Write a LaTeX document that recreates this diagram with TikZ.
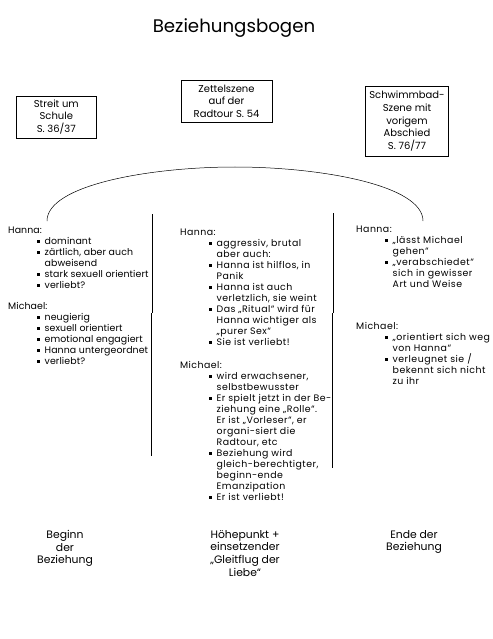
\documentclass[tikz,border=0pt]{standalone}
\usepackage{fontspec}
\setmainfont{Poppins}
\usetikzlibrary{positioning}

\newcommand{\bul}{\hspace*{29pt}\makebox[7.5pt][l]{\rule[1.8pt]{2.6pt}{2.6pt}}}
\newcommand{\cont}{\hspace*{36.5pt}}

\tikzset{
  col/.style={align=left, inner sep=0pt, anchor=north west, font=\fontsize{9.4}{11}\selectfont\addfontfeature{LetterSpace=#1}},
  col/.default=1,
  scenebox/.style={draw, line width=.5pt, align=center, inner sep=0pt, font=\fontsize{10}{12.7}\selectfont},
  phase/.style={align=center, inner sep=0pt, anchor=north, font=\fontsize{10.8}{12.7}\selectfont}
}

\begin{document}
\begin{tikzpicture}[x=1pt, y=-1pt]
\useasboundingbox (0,0) rectangle (492,639);

\node(title) at (234,28) {\fontsize{18.2}{21}\selectfont Beziehungsbogen};

\node(streit)[scenebox, minimum width=80pt, minimum height=42pt] at (56.3,117) {Streit um\\Schule\\S. 36/37};
\node(zettel)[scenebox, minimum width=91pt, minimum height=42pt] at (226.5,101.3) {Zettelszene\\auf der\\Radtour S. 54};
\node(schwimm)[scenebox, minimum width=82.6pt, minimum height=69.3pt] at (407,121.3) {Schwimmbad-\\Szene mit\\vorigem\\Abschied\\S. 76/77};

\draw[line width=.5pt] (47,221) .. controls (47,185) and (150,167) .. (235,167)
  .. controls (320,167) and (423,185) .. (423,221);

\draw[line width=.6pt] (152,214) -- (152,313);
\draw[line width=.6pt] (151,313) -- (151,456);
\draw[line width=.6pt] (333,213) -- (333,313);
\draw[line width=.6pt] (332,313) -- (332,468);

\node(hannaA)[col] at (8,227) {Hanna:\\
\bul dominant\\
\bul zärtlich, aber auch\\
\cont abweisend\\
\bul stark sexuell orientiert\\
\bul verliebt?};
\node(michaelA)[col] at (8,302) {Michael:\\
\bul neugierig\\
\bul sexuell orientiert\\
\bul emotional engagiert\\
\bul Hanna untergeordnet\\
\bul verliebt?};

\node(hannaB)[col=4.5] at (180,229) {Hanna:\\
\bul aggressiv, brutal\\
\cont aber auch:\\
\bul Hanna ist hilflos, in\\
\cont Panik\\
\bul Hanna ist auch\\
\cont verletzlich, sie weint\\
\bul Das „Ritual“ wird für\\
\cont Hanna wichtiger als\\
\cont „purer Sex“\\
\bul Sie ist verliebt!};
\node(michaelB)[col=4.5] at (180,361) {Michael:\\
\bul wird erwachsener,\\
\cont selbstbewusster\\
\bul Er spielt jetzt in der Be-\\
\cont ziehung eine „Rolle“.\\
\cont Er ist „Vorleser“, er\\
\cont organi-siert die\\
\cont Radtour, etc\\
\bul Beziehung wird\\
\cont gleich-berechtigter,\\
\cont beginn-ende\\
\cont Emanzipation\\
\bul Er ist verliebt!};

\node(hannaC)[col=5] at (356,226) {Hanna:\\
\bul „lässt Michael\\
\cont gehen“\\
\bul „verabschiedet“\\
\cont sich in gewisser\\
\cont Art und Weise};
\node(michaelC)[col=5] at (356,322) {Michael:\\
\bul „orientiert sich weg\\
\cont von Hanna“\\
\bul verleugnet sie /\\
\cont bekennt sich nicht\\
\cont zu ihr};

\node(beginn)[phase] at (65,530) {Beginn\\der\\Beziehung};
\node(hoehe)[phase] at (245,530) {Höhepunkt +\\einsetzender\\„Gleitflug der\\Liebe“};
\node(ende)[phase] at (414,530) {Ende der\\Beziehung};
\end{tikzpicture}
\end{document}
